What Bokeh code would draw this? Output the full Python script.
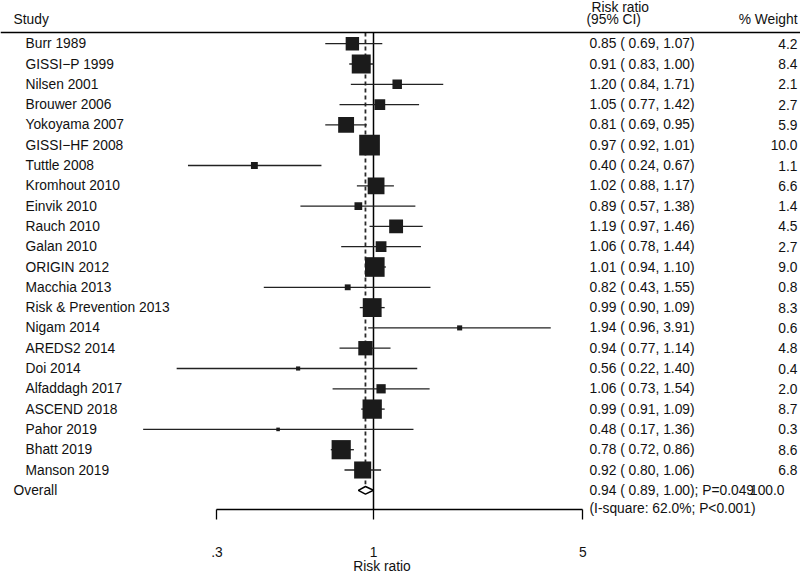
import numpy as np
from bokeh.plotting import figure
from bokeh.models import (ColumnDataSource, Range1d, LinearScale, Span, Label,
                          FixedTicker, CustomJSTickFormatter)
from bokeh.core.properties import value
from bokeh.embed import file_html
from bokeh.resources import INLINE

# ---------------- data ----------------
studies = ["Burr 1989", "GISSI\u2212P 1999", "Nilsen 2001", "Brouwer 2006", "Yokoyama 2007",
           "GISSI\u2212HF 2008", "Tuttle 2008", "Kromhout 2010", "Einvik 2010", "Rauch 2010",
           "Galan 2010", "ORIGIN 2012", "Macchia 2013", "Risk & Prevention 2013", "Nigam 2014",
           "AREDS2 2014", "Doi 2014", "Alfaddagh 2017", "ASCEND 2018", "Pahor 2019",
           "Bhatt 2019", "Manson 2019"]
rr = [0.85, 0.91, 1.20, 1.05, 0.81, 0.97, 0.40, 1.02, 0.89, 1.19, 1.06,
      1.01, 0.82, 0.99, 1.94, 0.94, 0.56, 1.06, 0.99, 0.48, 0.78, 0.92]
ci_low = [0.69, 0.83, 0.84, 0.77, 0.69, 0.92, 0.24, 0.88, 0.57, 0.97, 0.78,
          0.94, 0.43, 0.90, 0.96, 0.77, 0.22, 0.73, 0.91, 0.17, 0.72, 0.80]
ci_high = [1.07, 1.00, 1.71, 1.42, 0.95, 1.01, 0.67, 1.17, 1.38, 1.46, 1.44,
           1.10, 1.55, 1.09, 3.91, 1.14, 1.40, 1.54, 1.09, 1.36, 0.86, 1.06]
weight = [4.2, 8.4, 2.1, 2.7, 5.9, 10.0, 1.1, 6.6, 1.4, 4.5, 2.7,
          9.0, 0.8, 8.3, 0.6, 4.8, 0.4, 2.0, 8.7, 0.3, 8.6, 6.8]
overall_rr, overall_low, overall_high = 0.94, 0.89, 1.00
overall_weight = 100.0
overall_p = "0.049"
i_square = 62.0
i_square_p = "<0.001"
axis_ticks = [0.3, 1, 5]
axis_tick_labels = [".3", "1", "5"]
axis_title = "Risk ratio"

# ---------------- layout ----------------
W, H = 800, 575
AXIS_Y = 509.0
X1, PX_LN = 373.0, 130.0
x_start = np.exp(-X1 / PX_LN)
x_end = np.exp((W - X1) / PX_LN)

row0, row_step = 43.2, 20.3
n = len(studies)
ys = row0 + row_step * np.arange(n)
y_over = row0 + row_step * n
top_line = 32.0

FONT = value("Liberation Sans")
FS = "13.8px"
TXT = "#111111"
BOX = "#1b1b1b"

p = figure(width=W, height=H, x_axis_type="log",
           x_range=Range1d(x_start, x_end), y_range=Range1d(H, 0),
           output_backend="svg", toolbar_location=None, y_axis_location=None,
           min_border=0, outline_line_color=None,
           background_fill_color="white", border_fill_color="white")
p.xgrid.visible = False
p.ygrid.visible = False
p.extra_x_ranges = {"px": Range1d(0, W)}
p.extra_x_scales = {"px": LinearScale()}

ax = p.xaxis[0]
ax.fixed_location = AXIS_Y
ax.ticker = FixedTicker(ticks=axis_ticks, minor_ticks=[])
ax.bounds = (min(axis_ticks), max(axis_ticks))
ax.formatter = CustomJSTickFormatter(
    args=dict(tick_vals=axis_ticks, tick_texts=axis_tick_labels),
    code="for (let i = 0; i < tick_vals.length; i++) { if (Math.abs(tick_vals[i] - tick) < 1e-9) return tick_texts[i]; } return String(tick);")
ax.axis_line_color = "black"
ax.axis_line_width = 1.3
ax.major_tick_line_color = "black"
ax.major_tick_line_width = 1.3
ax.major_tick_out = 10
ax.major_tick_in = 0
ax.minor_tick_out = 0
ax.minor_tick_in = 0
ax.major_label_standoff = 27
ax.major_label_text_font = "Liberation Sans"
ax.major_label_text_font_size = FS
ax.major_label_text_color = TXT

# top rule
p.add_layout(Span(location=top_line, dimension="width", line_color="black", line_width=1.4))

# reference line at 1 and dashed line at overall estimate
p.segment(x0=[1], y0=[top_line], x1=[1], y1=[AXIS_Y], line_color="black", line_width=1.5)
p.segment(x0=[overall_rr], y0=[top_line], x1=[overall_rr], y1=[y_over - 6],
          line_color="#2a2a2a", line_width=1.8, line_dash="4 3")

# CI lines and weighted squares
src = ColumnDataSource(dict(
    study=studies, rr=rr, lo=ci_low, hi=ci_high, y=ys,
    size=[20.7 * np.sqrt(w / 10.0) for w in weight],
    rrtxt=[f"{r:.2f} ( {l:.2f}, {h:.2f})" for r, l, h in zip(rr, ci_low, ci_high)],
    wtxt=[f"{w:.1f}" for w in weight],
))
p.segment(x0="lo", y0="y", x1="hi", y1="y", source=src, line_color="#222222", line_width=1.3)
p.scatter(x="rr", y="y", size="size", marker="square", source=src,
          fill_color=BOX, line_color=BOX, line_width=0)

# overall diamond
dh = 3.8
p.patch(x=[overall_low, overall_rr, overall_high, overall_rr],
        y=[y_over, y_over - dh, y_over, y_over + dh],
        fill_color="white", line_color="black", line_width=1.5)

# row texts
common = dict(text_font=FONT, text_font_size=FS, text_color=TXT, text_baseline="middle",
              x_range_name="px")
p.text(x=25, y="y", text="study", source=src, text_align="left", **common)
p.text(x=589, y="y", text="rrtxt", source=src, text_align="left", **common)
p.text(x=797, y="y", text="wtxt", source=src, text_align="right", **common)


def lab(x, y, t, align="left", baseline="middle"):
    p.add_layout(Label(x=x, y=y, text=t, x_range_name="px", text_font="Liberation Sans",
                       text_font_size=FS, text_color=TXT, text_align=align,
                       text_baseline=baseline))


lab(13, 19, "Study")
lab(591, 7, "Risk ratio")
lab(586, 19, "(95% CI)")
lab(797, 19, "% Weight", "right")
lab(13, y_over, "Overall")
lab(589, y_over, f"{overall_rr:.2f} ( {overall_low:.2f}, {overall_high:.2f}); P={overall_p}")
lab(784, y_over, f"{overall_weight:.1f}", "right")
lab(589, y_over + 18, f"(I-square: {i_square:.1f}%; P{i_square_p})")
lab(381.5, 566, axis_title, "center")

open("out.html", "w").write(file_html(p, INLINE))
